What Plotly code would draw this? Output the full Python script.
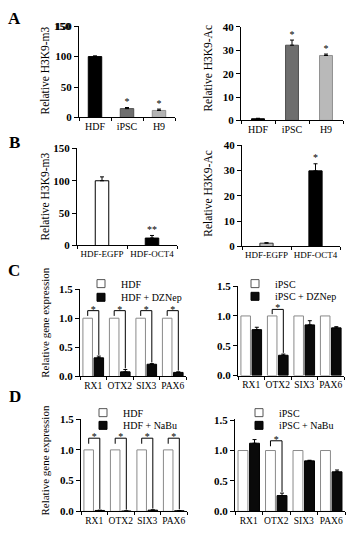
import plotly.graph_objects as go

W, H = 352, 534
SERIF = "Liberation Serif"

# ---------------- data ----------------
A_cats = ["HDF", "iPSC", "H9"]
A_m3 = [100, 14.5, 11.5]
A_m3_err = [1.2, 1.8, 2.2]
A_m3_sig = ["", "*", "*"]
A_ac = [0.7, 32.2, 27.8]
A_ac_err = [0.2, 2.2, 0.6]
A_ac_sig = ["", "*", "*"]

B_cats = ["HDF-EGFP", "HDF-OCT4"]
B_m3 = [100, 11.5]
B_m3_err = [6, 4]
B_m3_sig = ["", "**"]
B_ac = [1.3, 29.9]
B_ac_err = [0.2, 2.8]
B_ac_sig = ["", "*"]

genes = ["RX1", "OTX2", "SIX3", "PAX6"]
C_hdf_ctrl = [1.0, 1.0, 1.0, 1.0]
C_hdf_dznep = [0.32, 0.08, 0.21, 0.07]
C_hdf_dznep_err = [0.03, 0.04, 0.01, 0.01]
C_hdf_sig = [True, True, True, True]
C_ipsc_ctrl = [1.0, 1.0, 1.0, 1.0]
C_ipsc_dznep = [0.77, 0.34, 0.85, 0.80]
C_ipsc_dznep_err = [0.04, 0.02, 0.07, 0.02]
C_ipsc_sig = [False, True, False, False]

D_hdf_ctrl = [1.0, 1.0, 1.0, 1.0]
D_hdf_nabu = [0.015, 0.005, 0.02, 0.01]
D_hdf_nabu_err = [0.005, 0.003, 0.005, 0.003]
D_hdf_sig = [True, True, True, True]
D_ipsc_ctrl = [1.0, 1.0, 1.0, 1.0]
D_ipsc_nabu = [1.12, 0.26, 0.83, 0.65]
D_ipsc_nabu_err = [0.06, 0.04, 0.01, 0.03]
D_ipsc_sig = [False, True, False, False]

# ---------------- helpers ----------------
def dx(a, b):
    return [a / W, b / W]

def dy(top, bottom):
    return [1 - bottom / H, 1 - top / H]

fig = go.Figure()
layout = dict(
    width=W, height=H, margin=dict(l=0, r=0, t=0, b=0),
    paper_bgcolor="white", plot_bgcolor="white",
    barmode="overlay", showlegend=True,
    font=dict(family=SERIF, color="black"),
)
annotations = []

def add_axes(idx, xd, yd, cats, yr, ystep, yfmt="d", xfs=10):
    sx = "" if idx == 1 else str(idx)
    n = len(cats)
    layout["xaxis" + sx] = dict(
        domain=xd, anchor="y" + sx, range=[-0.5, n - 0.5],
        tickmode="array", tickvals=list(range(n)), ticktext=cats,
        ticks="", tickangle=0, showline=True, linecolor="black", linewidth=1,
        showgrid=False, zeroline=False, fixedrange=True,
        tickfont=dict(family=SERIF, size=xfs, color="black"),
        minor=dict(tick0=-0.5, dtick=1, ticks="outside", ticklen=3,
                   tickwidth=1, tickcolor="black", showgrid=False),
    )
    layout["yaxis" + sx] = dict(
        domain=yd, anchor="x" + sx, range=yr,
        tickmode="linear", tick0=0, dtick=ystep, tickformat=yfmt,
        ticks="outside", ticklen=4, tickwidth=1, tickcolor="black",
        showline=True, linecolor="black", linewidth=1,
        showgrid=False, zeroline=False, fixedrange=True,
        ticklabeloverflow="allow",
        tickfont=dict(family=SERIF, size=11, color="black", weight="bold"),
    )
    return "x" + sx, "y" + sx

def single_bars(xa, ya, vals, errs, colors, lines, width, sig):
    n = len(vals)
    fig.add_trace(go.Bar(
        x=list(range(n)), y=vals, width=width, xaxis=xa, yaxis=ya,
        marker=dict(color=colors, line=dict(color=lines, width=1)),
        error_y=dict(type="data", array=errs, arrayminus=[0] * n,
                     symmetric=False, color="black", thickness=1, width=2),
        showlegend=False, hoverinfo="skip"))
    fig.add_trace(go.Scatter(
        x=list(range(n)), y=[v + e for v, e in zip(vals, errs)],
        mode="text", text=sig, textposition="top center",
        textfont=dict(family=SERIF, size=10, color="black"),
        xaxis=xa, yaxis=ya, showlegend=False, hoverinfo="skip"))

BW = 0.36
OFF = 0.21
CTRL_FILL, CTRL_LINE = "white", "#8a8a8a"
TRT_FILL, TRT_LINE = "#0a0a0a", "black"

def legend_entry(xa, ya, name, leg, fill, line):
    fig.add_trace(go.Scatter(
        x=[None], y=[None], mode="markers", name=name, legend=leg,
        xaxis=xa, yaxis=ya, hoverinfo="skip",
        marker=dict(symbol="square", size=8, color=fill,
                    line=dict(color=line, width=1))))

def grouped(xa, ya, ctrl, treat, terr, sig, names, legs, top, lowgap):
    n = len(ctrl)
    fig.add_trace(go.Bar(
        x=list(range(n)), y=ctrl, width=BW, offset=-OFF - BW / 2,
        xaxis=xa, yaxis=ya, showlegend=False,
        marker=dict(color=CTRL_FILL, line=dict(color=CTRL_LINE, width=1)),
        hoverinfo="skip"))
    fig.add_trace(go.Bar(
        x=list(range(n)), y=treat, width=BW, offset=OFF - BW / 2,
        xaxis=xa, yaxis=ya, showlegend=False,
        marker=dict(color=TRT_FILL, line=dict(color=TRT_LINE, width=1)),
        error_y=dict(type="data", array=terr, arrayminus=[0] * n,
                     symmetric=False, color="black", thickness=1, width=2),
        hoverinfo="skip"))
    legend_entry(xa, ya, names[0], legs[0], CTRL_FILL, "#555555")
    legend_entry(xa, ya, names[1], legs[1], TRT_FILL, TRT_LINE)
    bx, by, sx_, sy_ = [], [], [], []
    for i in range(n):
        if not sig[i]:
            continue
        bx += [i - OFF, i - OFF, i + OFF, i + OFF, None]
        by += [ctrl[i] + lowgap, top, top, treat[i] + terr[i] + 0.02, None]
        sx_.append(i)
        sy_.append(top + 0.01)
    fig.add_trace(go.Scatter(
        x=bx, y=by, mode="lines", line=dict(color="black", width=1),
        xaxis=xa, yaxis=ya, showlegend=False, hoverinfo="skip"))
    fig.add_trace(go.Scatter(
        x=sx_, y=sy_, mode="text", text=["*"] * len(sx_),
        textposition="middle center",
        textfont=dict(family=SERIF, size=10, color="black"),
        xaxis=xa, yaxis=ya, showlegend=False, hoverinfo="skip"))

def ytitle(text, xpx, ypx, size):
    annotations.append(dict(
        text=text, xref="paper", yref="paper", x=xpx / W, y=1 - ypx / H,
        showarrow=False, textangle=-90, xanchor="center", yanchor="middle",
        font=dict(family=SERIF, size=size, color="black")))

def letter(text, xpx, ypx):
    annotations.append(dict(
        text="<b>" + text + "</b>", xref="paper", yref="paper",
        x=xpx / W, y=1 - ypx / H, showarrow=False,
        xanchor="center", yanchor="middle",
        font=dict(family=SERIF, size=17, color="black")))

def legend_at(key, xpx, ypx):
    layout[key] = dict(
        x=xpx / W, y=1 - ypx / H, xanchor="left", yanchor="middle",
        bgcolor="rgba(0,0,0,0)", borderwidth=0, itemsizing="trace",
        font=dict(family=SERIF, size=10, color="black"),
        itemwidth=30, itemclick=False, itemdoubleclick=False)

# ---------------- panel A ----------------
xa, ya = add_axes(1, dx(79, 175), dy(20, 114), A_cats, [0, 151], 50)
single_bars(xa, ya, A_m3, A_m3_err, ["black", "#6e6e6e", "#b4b4b4"],
            ["black", "#505050", "#909090"], 0.42, A_m3_sig)
xa, ya = add_axes(2, dx(241, 343), dy(21, 117), A_cats, [0, 40.2], 10)
single_bars(xa, ya, A_ac, A_ac_err, ["black", "#6e6e6e", "#b9b9b9"],
            ["black", "#505050", "#909090"], 0.38, A_ac_sig)
# top tick label of the first axis (kept visible explicitly)
annotations.append(dict(
    text="<b>150</b>", xref="x", yref="y", x=-0.5, y=150,
    xanchor="right", yanchor="middle", xshift=-6, showarrow=False,
    font=dict(family=SERIF, size=11, color="black")))

# ---------------- panel B ----------------
xa, ya = add_axes(3, dx(77, 177), dy(145, 245), B_cats, [0, 151], 50, xfs=9)
single_bars(xa, ya, B_m3, B_m3_err, ["white", "black"], ["black", "black"], 0.27, B_m3_sig)
xa, ya = add_axes(4, dx(242, 340), dy(142, 246), B_cats, [0, 40.2], 10, xfs=9)
single_bars(xa, ya, B_ac, B_ac_err, ["#bdbdbd", "black"], ["#333333", "black"], 0.27, B_ac_sig)

# ---------------- panel C ----------------
xa, ya = add_axes(5, dx(80, 186), dy(289, 379), genes, [0, 1.51], 0.5, ".1f", xfs=9.5)
grouped(xa, ya, C_hdf_ctrl, C_hdf_dznep, C_hdf_dznep_err, C_hdf_sig,
        ["HDF", "HDF + DZNep"], ["legend", "legend2"], 1.13, 0.04)
xa, ya = add_axes(6, dx(238, 344), dy(286, 378), genes, [0, 1.51], 0.5, ".1f", xfs=9.5)
grouped(xa, ya, C_ipsc_ctrl, C_ipsc_dznep, C_ipsc_dznep_err, C_ipsc_sig,
        ["iPSC", "iPSC + DZNep"], ["legend3", "legend4"], 1.11, 0.03)

# ---------------- panel D ----------------
xa, ya = add_axes(7, dx(81, 187), dy(422, 517), genes, [0, 1.51], 0.5, ".1f", xfs=9.5)
grouped(xa, ya, D_hdf_ctrl, D_hdf_nabu, D_hdf_nabu_err, D_hdf_sig,
        ["HDF", "HDF + NaBu"], ["legend5", "legend6"], 1.19, 0.10)
xa, ya = add_axes(8, dx(235, 345), dy(423, 517), genes, [0, 1.51], 0.5, ".1f", xfs=9.5)
grouped(xa, ya, D_ipsc_ctrl, D_ipsc_nabu, D_ipsc_nabu_err, D_ipsc_sig,
        ["iPSC", "iPSC + NaBu"], ["legend7", "legend8"], 1.16, 0.07)

# legends
legend_at("legend", 81, 284)
legend_at("legend2", 81, 298)
legend_at("legend3", 235, 284)
legend_at("legend4", 235, 297)
legend_at("legend5", 83, 416)
legend_at("legend6", 83, 429)
legend_at("legend7", 239, 416)
legend_at("legend8", 239, 429)

# titles and letters
ytitle("Relative H3K9-m3", 45, 66, 11.5)
ytitle("Relative H3K9-Ac", 208, 64, 11.5)
ytitle("Relative H3K9-m3", 45, 195, 11.5)
ytitle("Relative H3K9-Ac", 208, 192, 11.5)
ytitle("Relative gene expression", 45, 324, 11)
ytitle("Relative gene expression", 45, 465, 11)
letter("A", 15, 13)
letter("B", 15, 140)
letter("C", 14, 271)
letter("D", 15, 399)

layout["annotations"] = annotations
fig.update_layout(**layout)
fig.write_html(
    "out.html",
    config={"displayModeBar": False},
    post_script="document.body.style.margin='0px';document.body.style.overflow='hidden';",
)
